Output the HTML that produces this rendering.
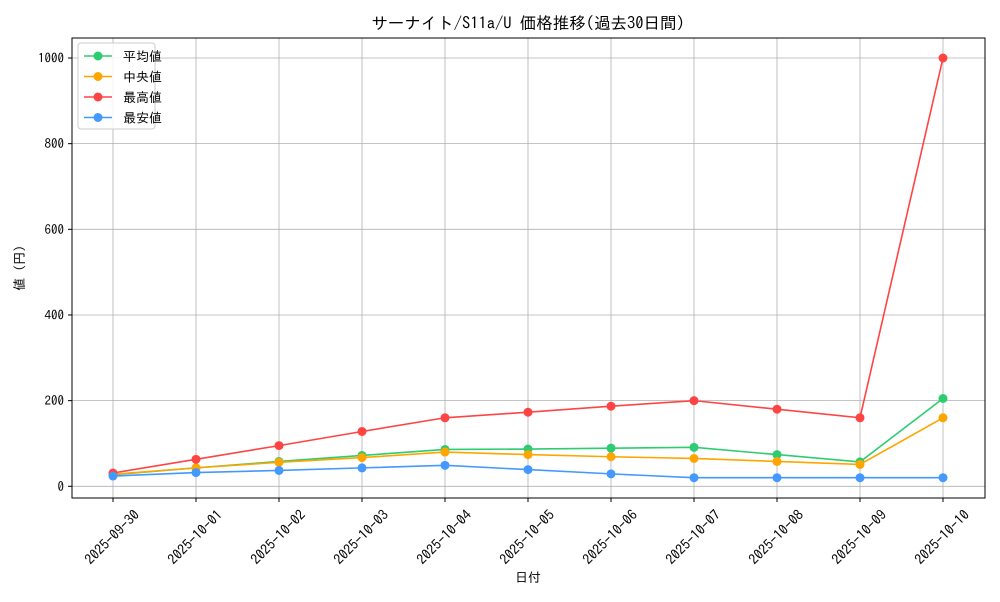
<!DOCTYPE html>
<html><head><meta charset="utf-8">
<style>
body{margin:0;background:#fff;font-family:"IPAGothic","Noto Sans CJK JP",sans-serif;}
svg text{font-family:"IPAGothic","Noto Sans CJK JP",sans-serif;fill:#000;}
</style></head><body>
<svg id="chart" width="1000" height="600" xmlns="http://www.w3.org/2000/svg">
<rect width="1000" height="600" fill="#fff"/>
<text x="528" y="29" font-size="16.5" text-anchor="middle">サーナイト/S11a/U 価格推移(過去30日間)</text>
<g id="grid"></g>
<g id="axes"></g>
<g id="series"></g>
<rect x="72" y="38" width="913" height="460" fill="none" stroke="#000" stroke-width="1"/>
<text x="528" y="582" font-size="13" text-anchor="middle">日付</text>
<text x="0" y="0" font-size="13" text-anchor="middle" transform="translate(24,268) rotate(-90)">値 (円)</text>
<g id="legend"></g>
</svg>
<script>
const categories=["2025-09-30","2025-10-01","2025-10-02","2025-10-03","2025-10-04","2025-10-05","2025-10-06","2025-10-07","2025-10-08","2025-10-09","2025-10-10"];
const avgValues=[27,43,58,72,86,87,89,91,74,57,205];
const medianValues=[28,43,56,67,80,74,69,65,58,51,160];
const maxValues=[31,63,95,128,160,173,187,200,180,160,1000];
const minValues=[24,32,37,43,49,39,29,20,20,20,20];
const yTicks=[0,200,400,600,800,1000];
const seriesNames=["平均値","中央値","最高値","最安値"];
const seriesColors=["#2ecc71","#ffa500","#ff4444","#4499ff"];
const seriesKeys=["avg","median","max","min"];

const NS="http://www.w3.org/2000/svg";
const X0=113,X1=943,Y0=486.3,Y1000=58;
function xs(i){return X0+(X1-X0)*i/(categories.length-1);}
function ys(v){return Y0+(Y1000-Y0)*v/1000;}
function mk(tag,attrs,parent){const e=document.createElementNS(NS,tag);for(const k in attrs)e.setAttribute(k,attrs[k]);parent.appendChild(e);return e;}
const grid=document.getElementById('grid'),axes=document.getElementById('axes'),ser=document.getElementById('series'),leg=document.getElementById('legend');
categories.forEach((c,i)=>{
  const x=xs(i);
  const g=mk('line',{x1:x,x2:x,y1:38,y2:498,stroke:'#b0b0b0','stroke-width':0.8},grid);
  
  
  mk('line',{x1:x,x2:x,y1:498,y2:502,stroke:'#000'},axes);
  const t=mk('text',{x:0,y:5,'font-size':14,'text-anchor':'middle',transform:`translate(${x-1},${537}) rotate(-45)`},axes);
  t.textContent=c;
  
  
});
yTicks.forEach(v=>{
  const y=ys(v);
  const g=mk('line',{x1:72,x2:985,y1:y,y2:y,stroke:'#b0b0b0','stroke-width':0.8},grid);
  
  
  mk('line',{x1:68,x2:72,y1:y,y2:y,stroke:'#000'},axes);
  const t=mk('text',{x:64,y:y+4.5,'font-size':13,'text-anchor':'end'},axes);
  t.textContent=v;
  
  
});
const data=[avgValues,medianValues,maxValues,minValues];
data.forEach((vals,s)=>{
  const g=mk('g',{},ser);
  
  
  const pts=vals.map((v,i)=>xs(i)+','+ys(v)).join(' ');
  mk('polyline',{points:pts,fill:'none',stroke:seriesColors[s],'stroke-width':1.6},g);
  vals.forEach((v,i)=>{
    const c=mk('circle',{cx:xs(i),cy:ys(v),r:4.5,fill:seriesColors[s]},g);
    
    
  });
});
mk('rect',{x:78,y:43,width:77,height:86,rx:3,fill:'#fff','fill-opacity':0.85,stroke:'#ccc'},leg);
seriesNames.forEach((n,s)=>{
  const y=56+s*20.5;
  const e=mk('g',{},leg);
  
  
  mk('line',{x1:84,x2:112,y1:y,y2:y,stroke:seriesColors[s],'stroke-width':1.6},e);
  mk('circle',{cx:98,cy:y,r:4.5,fill:seriesColors[s]},e);
  const t=mk('text',{x:123,y:y+5,'font-size':13},e);
  t.textContent=n;
});
</script>
</body></html>
